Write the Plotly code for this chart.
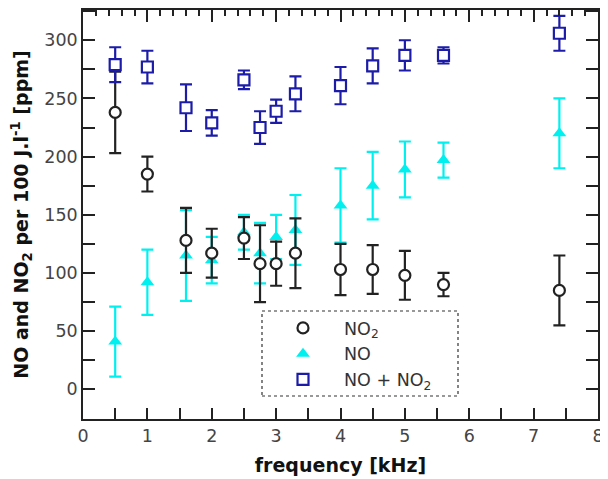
import plotly.graph_objects as go

freq = [0.5, 1.0, 1.6, 2.0, 2.5, 2.75, 3.0, 3.3, 4.0, 4.5, 5.0, 5.6, 7.4]

no2 = [238, 185, 128, 117, 130, 108, 108, 117, 103, 103, 98, 90, 85]
no2_err = [35, 15, 28, 21, 18, 33, 19, 30, 22, 21, 21, 10, 30]

no = [41, 92, 115, 111, 135, 117, 131, 137, 158, 175, 189, 197, 220]
no_err = [30, 28, 39, 20, 15, 26, 19, 30, 32, 29, 24, 15, 30]

nox = [279, 277, 242, 229, 266, 225, 239, 254, 261, 278, 287, 287, 306]
nox_err = [15, 14, 20, 11, 8, 14, 10, 15, 16, 15, 13, 7, 15]

ytickvals = [0, 50, 100, 150, 200, 250, 300]
xtickvals = [0, 1, 2, 3, 4, 5, 6, 7, 8]

FONT = "DejaVu Sans"

# page body has an 8px margin; figure is sized to fit the 608x479 window
OFF = 8
W, H = 608 - OFF, 479 - OFF
# target plot area in window pixels: left 83, right 598, top 10, bottom 419
L, R, T, B = 83 - OFF, 598 - OFF, 10 - OFF, 419 - OFF
def px_x(p):
    return (p - OFF - L) / (R - L)
def px_y(p):
    return (B - (p - OFF)) / (B - T)

fig = go.Figure()

fig.add_trace(go.Scatter(
    x=freq, y=no, mode="markers", name="NO", legendrank=2,
    marker=dict(symbol="triangle-up", size=12, color="#00f0f0",
                line=dict(width=0)),
    error_y=dict(type="data", array=no_err, visible=True,
                 color="#00f0f0", thickness=2.2, width=6),
))
fig.add_trace(go.Scatter(
    x=freq, y=no2, mode="markers", name="NO<sub>2</sub>", legendrank=1,
    marker=dict(symbol="circle", size=11, color="white",
                line=dict(width=2.2, color="#222222")),
    error_y=dict(type="data", array=no2_err, visible=True,
                 color="#222222", thickness=2.2, width=6),
))
fig.add_trace(go.Scatter(
    x=freq, y=nox, mode="markers", name="NO + NO<sub>2</sub>", legendrank=3,
    marker=dict(symbol="square", size=11, color="white",
                line=dict(width=2.2, color="#1c1ca8")),
    error_y=dict(type="data", array=nox_err, visible=True,
                 color="#1c1ca8", thickness=2.2, width=6),
))
# dummy trace for top axis
fig.add_trace(go.Scatter(x=[0], y=[0], xaxis="x2", mode="markers",
                         marker=dict(opacity=0), showlegend=False,
                         hoverinfo="skip"))

fig.update_layout(
    width=W, height=H,
    margin=dict(l=L, r=W - R, t=T, b=H - B),
    paper_bgcolor="white", plot_bgcolor="white",
    font=dict(family=FONT, size=17.5, color="#444444"),
    showlegend=True,
    legend=dict(x=px_x(262), y=px_y(310), xanchor="left", yanchor="top",
                borderwidth=0,
                font=dict(family=FONT, size=17.5, color="#333333"),
                bgcolor="rgba(255,255,255,0)", itemwidth=72,
                tracegroupgap=0),
    shapes=[dict(type="rect", xref="paper", yref="paper",
                 x0=px_x(262), x1=px_x(458), y0=px_y(396), y1=px_y(311),
                 line=dict(color="#333333", width=1.2, dash="dot"))],
    xaxis=dict(range=[0, 8], tickvals=xtickvals, ticks="inside",
               ticklen=11, tickwidth=1.5, tickcolor="#222",
               minor=dict(dtick=0.5, ticks="inside", ticklen=11,
                          tickwidth=1.5, tickcolor="#222"),
               showline=True, linecolor="#222", linewidth=1.5,
               showgrid=False, zeroline=False, automargin=False,
               title=dict(text="<b>frequency [kHz]</b>",
                          font=dict(family=FONT, size=19, color="#111"),
                          standoff=14)),
    xaxis2=dict(range=[0, 8], overlaying="x", side="top",
                tickvals=xtickvals, ticks="inside", ticklen=12,
                tickwidth=1.5, tickcolor="#222", showticklabels=False,
                minor=dict(dtick=0.2, ticks="inside", ticklen=6,
                           tickwidth=1.5, tickcolor="#222"),
                showline=True, linecolor="#222", linewidth=1.5,
                showgrid=False, zeroline=False, automargin=False),
    yaxis=dict(range=[-25.5, 326], tickvals=ytickvals, ticks="inside",
               ticklen=12, tickwidth=1.5, tickcolor="#222",
               minor=dict(dtick=25, ticks="inside", ticklen=12,
                          tickwidth=1.5, tickcolor="#222"),
               showline=True, linecolor="#222", linewidth=1.5,
               mirror="ticks", showgrid=False, zeroline=False,
               automargin=False,
               title=dict(text="<b>NO and NO<sub>2</sub> per 100 J.l<sup>-1</sup> [ppm]</b>",
                          font=dict(family=FONT, size=19, color="#111"),
                          standoff=13)),
)

fig.write_html("out.html")
